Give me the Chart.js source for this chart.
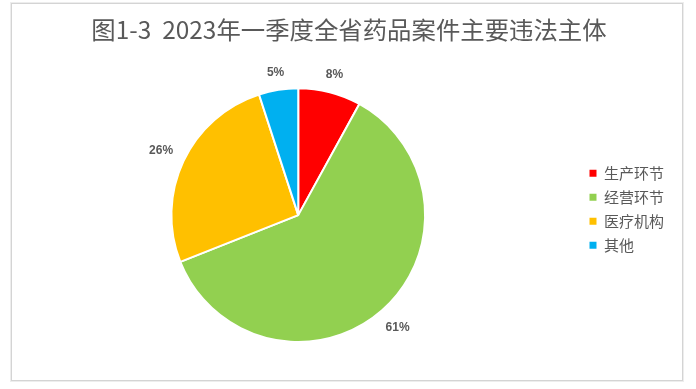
<!DOCTYPE html>
<html lang="zh">
<head>
<meta charset="UTF-8">
<script src="https://cdn.jsdelivr.net/npm/chart.js"></script>
<style>
  html, body { margin: 0; padding: 0; background: #fff; }
  #wrap { position: relative; width: 696px; height: 389px; }
  #frame { position: absolute; left: 11px; top: 3px; width: 670px; height: 376px;
           border: 1px solid #d4d4d4; box-shadow: 0 0 0 1px #ededed; }
  #chart { position: absolute; left: 0; top: 0; }
</style>
</head>
<body>
<div id="wrap">
  <div id="frame"></div>
  <canvas id="chart" width="696" height="389"></canvas>
</div>
<script>
// 数据
const categories = ['生产环节', '经营环节', '医疗机构', '其他'];
const shares = [8, 61, 26, 5];
const sliceColors = ['#FF0000', '#92D050', '#FFC000', '#00B0F0'];
const titleText = '图1-3  2023年一季度全省药品案件主要违法主体';

// percentage labels outside each slice, Excel "outside end" style
const outsideLabels = {
    id: 'outsideLabels',
    afterLayout(chart) {
        // centre the title over the whole frame, not just the padded area
        chart.titleBlock.left = 2;
        chart.titleBlock.right = chart.width;
    },
    afterDatasetsDraw(chart) {
        const ctx = chart.ctx;
        const meta = chart.getDatasetMeta(0);
        const total = shares.reduce((a, b) => a + b, 0);
        ctx.save();
        ctx.font = 'bold 12px "Liberation Sans", Arial, sans-serif';
        ctx.fillStyle = '#595959';
        ctx.textAlign = 'center';
        ctx.textBaseline = 'middle';
        meta.data.forEach((arc, i) => {
            const p = arc.getProps(['x', 'y', 'startAngle', 'endAngle', 'outerRadius'], true);
            const mid = (p.startAngle + p.endAngle) / 2;
            const pct = Math.round(shares[i] / total * 100) + '%';
            const halfW = ctx.measureText(pct).width / 2;
            const cx = Math.cos(mid), cy = Math.sin(mid);
            const r = p.outerRadius + 12 + halfW * Math.abs(cx) + 4.5 * Math.abs(cy);
            ctx.fillText(pct, p.x + cx * r, p.y + cy * r);
        });
        ctx.restore();
    }
};

const ctx = document.getElementById('chart').getContext('2d');
new Chart(ctx, {
    type: 'pie',
    data: {
        labels: categories,
        datasets: [{
            data: shares,
            backgroundColor: sliceColors,
            borderColor: '#ffffff',
            borderWidth: 2
        }]
    },
    options: {
        responsive: false,
        animation: false,
        layout: {
            padding: { left: 16, right: 22, top: 0, bottom: 46 }
        },
        plugins: {
            title: {
                display: true,
                text: titleText,
                color: '#595959',
                font: { family: '"Noto Sans CJK SC", sans-serif', size: 24.4, weight: 'normal' },
                padding: { top: 15, bottom: 43 }
            },
            legend: {
                position: 'right',
                align: 'start',
                fullSize: false,
                title: {
                    display: true,
                    text: '',
                    font: { size: 12 },
                    padding: { top: 55, bottom: 0 }
                },
                labels: {
                    color: '#595959',
                    font: { family: '"Noto Sans CJK SC", sans-serif', size: 15 },
                    boxWidth: 7,
                    boxHeight: 7,
                    padding: 9,
                    generateLabels(chart) {
                        const items = Chart.overrides.pie.plugins.legend.labels.generateLabels(chart);
                        return items.map(it => Object.assign(it, { lineWidth: 0 }));
                    }
                }
            },
            tooltip: { enabled: false }
        }
    },
    plugins: [outsideLabels]
});
</script>
</body>
</html>
